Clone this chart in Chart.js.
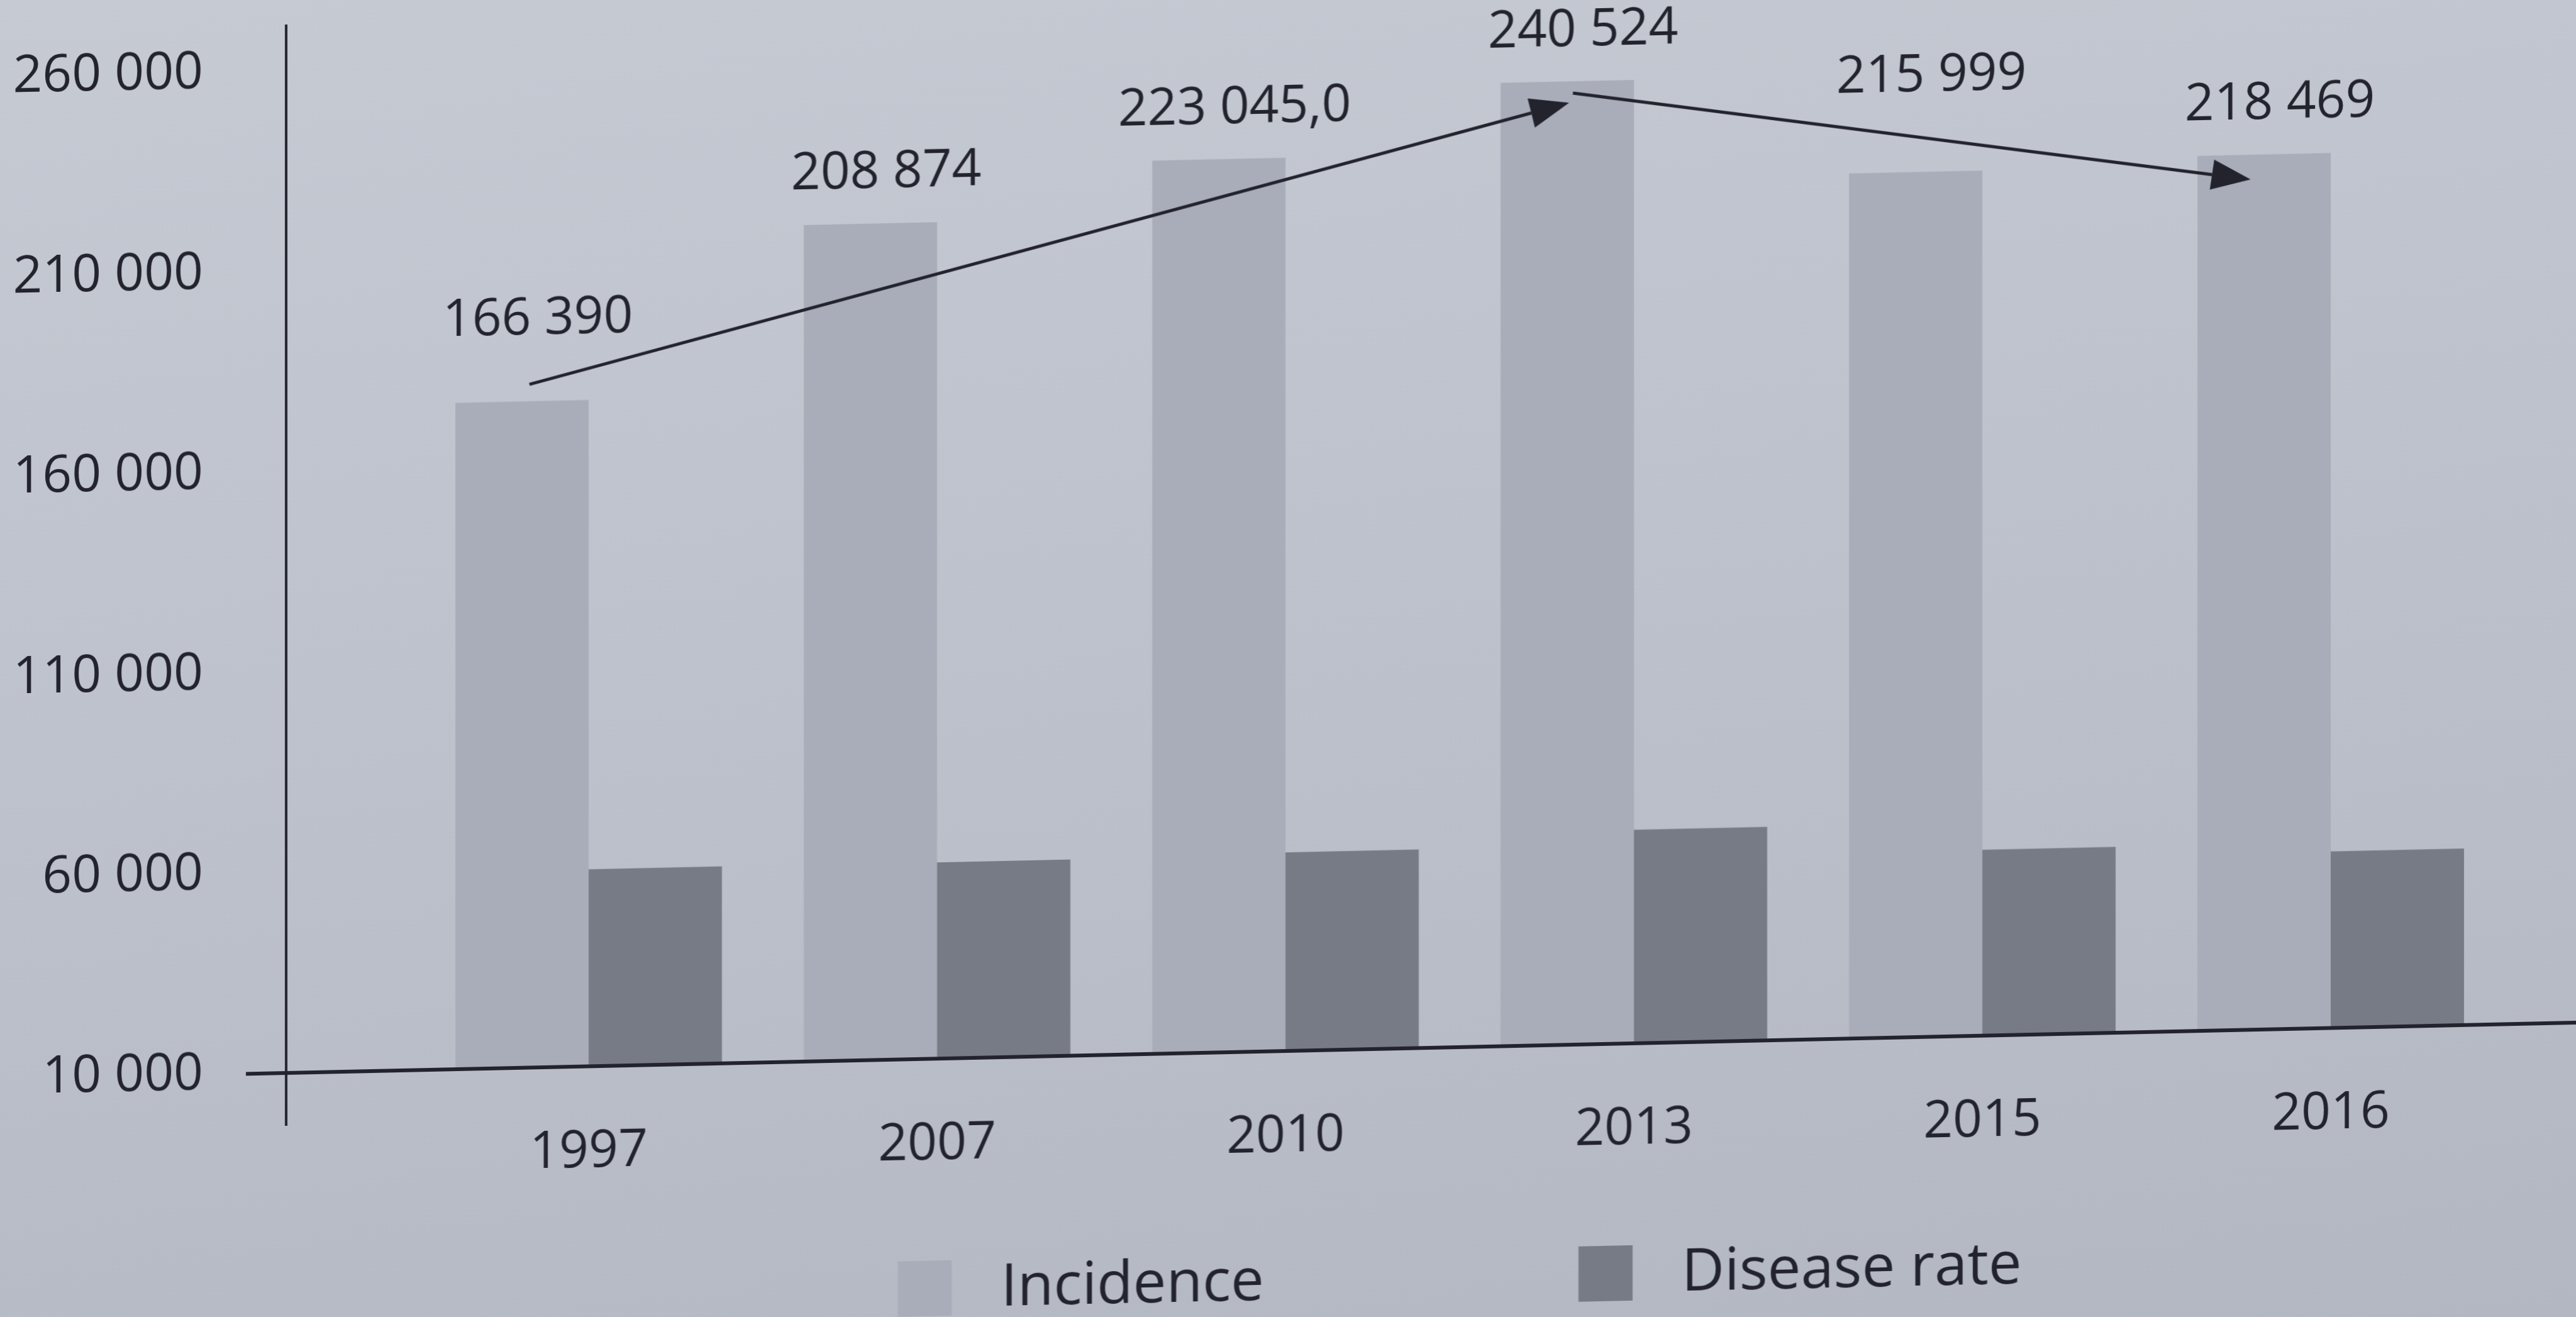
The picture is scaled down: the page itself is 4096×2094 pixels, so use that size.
<!DOCTYPE html>
<html>
<head>
<meta charset="utf-8">
<script src="https://cdn.jsdelivr.net/npm/chart.js@4/dist/chart.umd.min.js"></script>
<style>
  html, body { margin: 0; padding: 0; width: 4096px; height: 2094px; overflow: hidden; }
  body { background: linear-gradient(172deg, #c6cad3 0%, #bdc1cb 50%, #b2b7c2 100%); }
  #c { display: block; transform: skewY(-1.26deg); transform-origin: 455px 0; }
</style>
</head>
<body>
<canvas id="c" width="4096" height="2150" style="width:4096px;height:2150px"></canvas>
<script>
// ---- data ----
const categories = ['1997', '2007', '2010', '2013', '2015', '2016'];
const incidence = [166390, 208874, 223045, 240524, 215999, 218469];
const incidenceLabels = ['166 390', '208 874', '223 045,0', '240 524', '215 999', '218 469'];
const diseaseRate = [49200, 49000, 49600, 53300, 46400, 44100];
const yTickLabels = ['10 000', '60 000', '110 000', '160 000', '210 000', '260 000'];
const seriesNames = ['Incidence', 'Disease rate'];
// trend arrows, in (category index, value) units
const trendArrowFrom = [[-0.17, 170600], [2.825, 237600]];
const trendArrowTo = [[2.814, 235200], [4.77, 212300]];

const INK = '#22232d';
const FONT = '"Open Sans", "Noto Sans", sans-serif';

const overlay = {
  id: 'overlay',
  afterDatasetsDraw(chart) {
    const ctx = chart.ctx;
    const xs = chart.scales.x, ys = chart.scales.y;
    const area = chart.chartArea;
    const zeroY = ys.getPixelForValue(0);
    const axisX = area.left - 204;
    ctx.save();
    ctx.strokeStyle = INK;
    ctx.fillStyle = INK;
    ctx.lineCap = 'butt';
    // y axis line
    ctx.lineWidth = 4;
    ctx.beginPath();
    ctx.moveTo(axisX, area.top - 75);
    ctx.lineTo(axisX, zeroY + 84);
    ctx.stroke();
    // x axis line
    ctx.lineWidth = 6;
    ctx.beginPath();
    ctx.moveTo(axisX - 64, zeroY);
    ctx.lineTo(chart.width, zeroY);
    ctx.stroke();

    // arrow segments in pixels
    const segs = trendArrowFrom.map((f, i) => {
      const t = trendArrowTo[i];
      return [xs.getPixelForValue(f[0]), ys.getPixelForValue(f[1]),
              xs.getPixelForValue(t[0]), ys.getPixelForValue(t[1])];
    });
    const arrowYAt = (x) => {
      let best = Infinity;
      segs.forEach(([x1, y1, x2, y2]) => {
        if (x >= Math.min(x1, x2) && x <= Math.max(x1, x2)) {
          best = Math.min(best, y1 + (x - x1) / (x2 - x1) * (y2 - y1));
        }
      });
      return best;
    };

    // value labels above incidence bars (kept clear of the arrows)
    const meta = chart.getDatasetMeta(0);
    ctx.font = '82px ' + FONT;
    ctx.textAlign = 'center';
    ctx.textBaseline = 'middle';
    meta.data.forEach((bar, i) => {
      const lx = bar.x + 25;
      const ly = Math.min(bar.y - 80, arrowYAt(lx) - 100);
      ctx.fillText(incidenceLabels[i], lx, ly);
    });

    // trend arrows
    ctx.lineWidth = 5;
    segs.forEach(([x1, y1, x2, y2]) => {
      const ang = Math.atan2(y2 - y1, x2 - x1);
      const len = 62, half = 24;
      const bx = x2 - len * Math.cos(ang), by = y2 - len * Math.sin(ang);
      ctx.beginPath();
      ctx.moveTo(x1, y1);
      ctx.lineTo(bx, by);
      ctx.stroke();
      ctx.beginPath();
      ctx.moveTo(x2, y2);
      ctx.lineTo(bx + half * Math.sin(ang), by - half * Math.cos(ang));
      ctx.lineTo(bx - half * Math.sin(ang), by + half * Math.cos(ang));
      ctx.closePath();
      ctx.fill();
    });

    // legend
    const lf = 94;
    ctx.font = lf + 'px ' + FONT;
    ctx.textAlign = 'left';
    const boxW = 86, boxH = 88, boxGap = 78, itemGap = 500;
    const ds = chart.data.datasets;
    const widths = ds.map(d => boxW + boxGap + ctx.measureText(d.label).width);
    const total = widths.reduce((a, b) => a + b, 0) + itemGap * (ds.length - 1);
    let lx = (area.left + area.right) / 2 - total / 2;
    const ly = zeroY + 365;
    ds.forEach((d, i) => {
      ctx.fillStyle = d.backgroundColor;
      ctx.fillRect(lx, ly - boxH / 2, boxW, boxH);
      ctx.fillStyle = INK;
      ctx.fillText(d.label, lx + boxW + boxGap, ly + 3);
      lx += widths[i] + itemGap;
    });
    ctx.restore();
  }
};

new Chart(document.getElementById('c'), {
  type: 'bar',
  data: {
    labels: categories,
    datasets: [
      { label: seriesNames[0], data: incidence, backgroundColor: '#a8adb9', borderWidth: 0,
        categoryPercentage: 0.765, barPercentage: 1.0 },
      { label: seriesNames[1], data: diseaseRate, backgroundColor: '#777b86', borderWidth: 0,
        categoryPercentage: 0.765, barPercentage: 1.0 }
    ]
  },
  options: {
    responsive: false,
    animation: false,
    devicePixelRatio: 1,
    layout: { padding: { top: 114, right: 113, left: 0, bottom: 0 } },
    plugins: { legend: { display: false }, tooltip: { enabled: false } },
    scales: {
      x: {
        grid: { display: false },
        border: { display: false },
        ticks: { color: INK, font: { family: FONT, size: 82 }, padding: 79, maxRotation: 0 },
        afterFit(scale) { scale.height = 444; scale.paddingLeft = 0; scale.paddingRight = 0; }
      },
      y: {
        min: 0,
        max: 250000,
        grid: { display: false },
        border: { display: false },
        ticks: {
          stepSize: 50000,
          color: INK,
          font: { family: FONT, size: 82 },
          padding: 328,
          callback: (v, i) => yTickLabels[i]
        },
        afterFit(scale) { scale.width = 659; scale.paddingTop = 0; scale.paddingBottom = 0; }
      }
    }
  },
  plugins: [overlay]
});
</script>
</body>
</html>
